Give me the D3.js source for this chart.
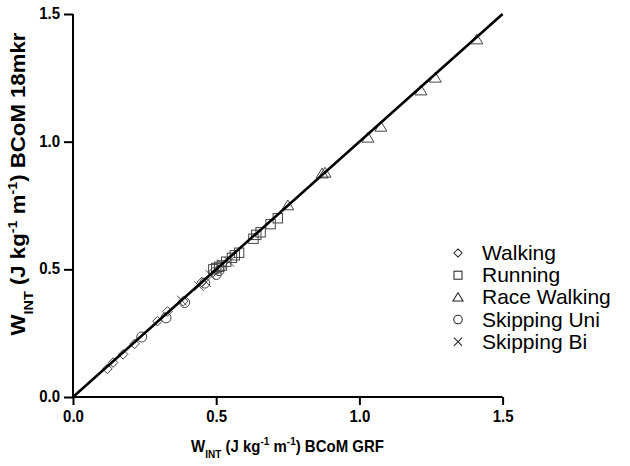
<!DOCTYPE html>
<html><head><meta charset="utf-8">
<script src="https://cdn.jsdelivr.net/npm/d3@7"></script>
<style>body{margin:0;background:#fff}svg{display:block}</style>
</head><body>
<svg id="c" width="630" height="466"></svg>
<script>
const ticks = [0.0, 0.5, 1.0, 1.5];
const walkingX = [0.12, 0.14, 0.175, 0.215, 0.295, 0.33, 0.385, 0.45, 0.49];
const walkingY = [0.11, 0.135, 0.167, 0.208, 0.297, 0.335, 0.375, 0.45, 0.49];
const runningX = [0.49, 0.50, 0.51, 0.52, 0.535, 0.555, 0.565, 0.58, 0.63, 0.64, 0.655, 0.69, 0.715];
const runningY = [0.50, 0.505, 0.51, 0.515, 0.53, 0.545, 0.555, 0.565, 0.62, 0.635, 0.645, 0.677, 0.70];
const raceX = [0.75, 0.87, 0.88, 1.03, 1.075, 1.215, 1.265, 1.41];
const raceY = [0.75, 0.875, 0.878, 1.015, 1.058, 1.20, 1.25, 1.40];
const skipUniX = [0.24, 0.325, 0.39, 0.46, 0.50, 0.51];
const skipUniY = [0.235, 0.31, 0.37, 0.446, 0.48, 0.495];
const skipBiX = [0.38, 0.44, 0.465, 0.48, 0.52, 0.545];
const skipBiY = [0.378, 0.434, 0.45, 0.478, 0.52, 0.53];
const lineX = [0, 1.5];
const lineY = [0, 1.5];
const seriesNames = ["Walking", "Running", "Race Walking", "Skipping Uni", "Skipping Bi"];

const FONT = "'Liberation Sans', Arial, sans-serif";
const S = 1.11; // vertical stretch of the reference text
const svg = d3.select("#c");
const x = d3.scaleLinear().domain([0, 1.5]).range([73, 502.6]);
const y = d3.scaleLinear().domain([0, 1.5]).range([397, 14]);
const stroke = "#444";

const shapes = {
  "Walking": (g) => g.append("path").attr("d", "M0,-4.8L4.8,0L0,4.8L-4.8,0Z"),
  "Running": (g) => g.append("rect").attr("x", -4.7).attr("y", -4.7).attr("width", 9.4).attr("height", 9.4),
  "Race Walking": (g) => g.append("path").attr("d", "M0,-5.5L6,4.3L-6,4.3Z"),
  "Skipping Uni": (g) => g.append("circle").attr("r", 5),
  "Skipping Bi": (g) => g.append("path").attr("d", "M-4.8,-4.8L4.8,4.8M-4.8,4.8L4.8,-4.8")
};
const data = [
  ["Walking", walkingX, walkingY],
  ["Running", runningX, runningY],
  ["Race Walking", raceX, raceY],
  ["Skipping Uni", skipUniX, skipUniY],
  ["Skipping Bi", skipBiX, skipBiY]
];

const pts = svg.append("g").attr("fill", "none").attr("stroke", stroke).attr("stroke-width", 1);
data.forEach(([name, xs, ys]) => {
  xs.forEach((v, i) => {
    const g = pts.append("g").attr("transform", `translate(${x(v)},${y(ys[i])})`);
    shapes[name](g);
  });
});

// identity line
svg.append("path")
  .datum(lineX.map((v, i) => [v, lineY[i]]))
  .attr("d", d3.line().x(d => x(d[0])).y(d => y(d[1])))
  .attr("stroke", "#000").attr("stroke-width", 2.6).attr("fill", "none");

// axes
const xAxis = svg.append("g").attr("transform", "translate(0,397)")
  .call(d3.axisBottom(x).tickValues(ticks).tickFormat(d3.format(".1f")).tickSizeOuter(0).tickSize(8));
const yAxis = svg.append("g").attr("transform", "translate(73,0)")
  .call(d3.axisLeft(y).tickValues(ticks).tickFormat(d3.format(".1f")).tickSizeOuter(0).tickSize(9));
[xAxis, yAxis].forEach(a => {
  a.select(".domain").attr("stroke", "#000").attr("stroke-width", 2);
  a.selectAll(".tick line").attr("stroke", "#000").attr("stroke-width", 2);
  a.selectAll(".tick text").attr("fill", "#000")
    .style("font-family", FONT).style("font-weight", "bold").style("font-size", "15px")
    .attr("x", null).attr("y", null).attr("dy", null);
});
xAxis.selectAll(".tick text").attr("transform", `translate(0,25) scale(1,${S})`);
yAxis.selectAll(".tick text").attr("transform", `translate(-13,4.5) scale(1,${S})`);
xAxis.select(".domain").attr("d", `M${x(0)},0H${x(1.5)}`);
yAxis.select(".domain").attr("d", `M0,${y(0)}V${y(1.5)}`);

// axis titles
function title(sel, rest, fs) {
  const sm = Math.round(fs * 0.66);
  const d = Math.round(fs * 0.38);
  sel.style("font-family", FONT).style("font-weight", "bold").style("font-size", fs + "px").attr("fill", "#000");
  sel.append("tspan").text("W");
  sel.append("tspan").attr("dy", d).style("font-size", sm + "px").text("INT");
  sel.append("tspan").attr("dy", -d).text(" (J kg");
  sel.append("tspan").attr("dy", -d).style("font-size", sm + "px").text("-1");
  sel.append("tspan").attr("dy", d).text(" m");
  sel.append("tspan").attr("dy", -d).style("font-size", sm + "px").text("-1");
  sel.append("tspan").attr("dy", d).text(") " + rest);
}
svg.append("text").attr("transform", `translate(287.5,451.5) scale(1,${S})`).attr("text-anchor", "middle")
  .call(title, "BCoM GRF", 15);
svg.append("text").attr("transform", `translate(25,184) rotate(-90) scale(${S},1)`).attr("text-anchor", "middle")
  .call(title, "BCoM 18mkr", 20);

// legend
const leg = svg.append("g").attr("transform", "translate(458,253)");
seriesNames.forEach((n, i) => {
  const r = leg.append("g").attr("transform", `translate(0,${i * 22.2})`);
  const s = r.append("g").attr("fill", "none").attr("stroke", "#222").attr("stroke-width", 1.2)
    .attr("transform", "scale(0.85)");
  shapes[n](s);
  r.append("text").attr("x", 24).attr("y", 7).text(n)
    .style("font-family", FONT).style("font-size", "21px").attr("fill", "#000");
});
</script>
</body></html>
